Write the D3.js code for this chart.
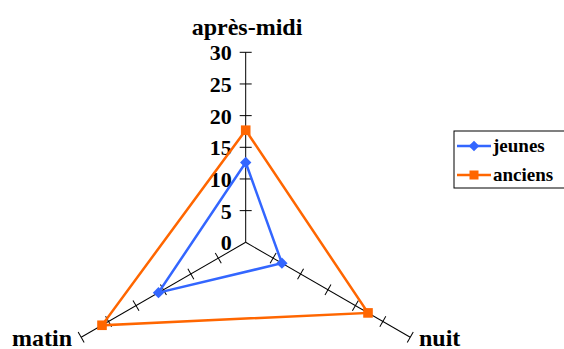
<!DOCTYPE html>
<html>
<head>
<meta charset="utf-8">
<script src="https://cdn.jsdelivr.net/npm/d3@7"></script>
<style>
  body { margin: 0; background: #fff; }
  text { font-family: "Liberation Serif", "Times New Roman", Times, serif; font-weight: bold; }
</style>
</head>
<body>
<div id="chart"></div>
<script>
// axes du radar
const axes = ["après-midi", "nuit", "matin"];
const seriesNames = ["jeunes", "anciens"];
const jeunes = [12.6, 6.6, 15.9];
const anciens = [17.7, 22.3, 26.2];
const tickValues = [0, 5, 10, 15, 20, 25, 30];

const W = 564, H = 349;
const cx = 245.7, cy = 242.3;
const colors = ["#3366ff", "#ff6600"];

const svg = d3.select("#chart").append("svg")
  .attr("width", W).attr("height", H);

const r = d3.scaleLinear().domain([0, 30]).range([0, 190]);
const angle = d3.scaleOrdinal().domain(axes).range([0, 120, 240]);

function pt(a, v) {
  const rad = angle(a) * Math.PI / 180;
  return [cx + r(v) * Math.sin(rad), cy - r(v) * Math.cos(rad)];
}

// losange = carré tourné de 45°
function marker(sel, i, s) {
  if (i === 0) {
    sel.append("rect").attr("x", -s / 2).attr("y", -s / 2).attr("width", s).attr("height", s)
      .attr("transform", "rotate(45)").attr("fill", colors[i]);
  } else {
    sel.append("rect").attr("x", -s * 0.6).attr("y", -s * 0.6).attr("width", s * 1.2).attr("height", s * 1.2)
      .attr("fill", colors[i]);
  }
}

// axes + graduations
const g = svg.append("g");
axes.forEach(a => {
  const ax = g.append("g")
    .attr("transform", `translate(${cx},${cy}) rotate(${angle(a)})`);
  ax.append("line")
    .attr("x1", 0).attr("y1", 0).attr("x2", 0).attr("y2", -r(30))
    .attr("stroke", "#000").attr("stroke-width", 1);
  ax.selectAll(".tick").data(tickValues.slice(1)).join("line")
    .attr("x1", -6).attr("x2", 6)
    .attr("y1", d => -r(d)).attr("y2", d => -r(d))
    .attr("stroke", "#000").attr("stroke-width", 1);
});

// étiquettes de l'axe vertical
g.selectAll(".tl").data(tickValues).join("text")
  .attr("x", cx - 14).attr("y", d => cy - r(d) + 8)
  .attr("text-anchor", "end").style("font-size", "22px")
  .text(d => d);

// noms des axes
svg.append("text").attr("x", 247).attr("y", 35).attr("text-anchor", "middle")
  .style("font-size", "24px").text(axes[0]);
svg.append("text").attr("x", 419).attr("y", 346).attr("text-anchor", "start")
  .style("font-size", "24px").text(axes[1]);
svg.append("text").attr("x", 72).attr("y", 346).attr("text-anchor", "end")
  .style("font-size", "24px").text(axes[2]);

// séries
const data = [jeunes, anciens];
const line = d3.line().curve(d3.curveLinearClosed);
data.forEach((vals, i) => {
  const pts = axes.map((a, k) => pt(a, vals[k]));
  svg.append("path").attr("d", line(pts))
    .attr("fill", "none").attr("stroke", colors[i]).attr("stroke-width", 2.5);
  pts.forEach(p => {
    marker(svg.append("g").attr("transform", `translate(${p[0]},${p[1]})`), i, 8);
  });
});

// légende
const leg = svg.append("g").attr("transform", "translate(454,131)");
leg.append("rect").attr("x", 0).attr("y", 0).attr("width", 130).attr("height", 57)
  .attr("fill", "#fff").attr("stroke", "#000").attr("stroke-width", 1);
seriesNames.forEach((n, i) => {
  const y = 15 + i * 29;
  leg.append("line").attr("x1", 3).attr("x2", 37).attr("y1", y).attr("y2", y)
    .attr("stroke", colors[i]).attr("stroke-width", 2.5);
  marker(leg.append("g").attr("transform", `translate(20,${y})`), i, 7.5);
  leg.append("text").attr("x", 39).attr("y", y + 6).style("font-size", "19px").text(n);
});
</script>
</body>
</html>
